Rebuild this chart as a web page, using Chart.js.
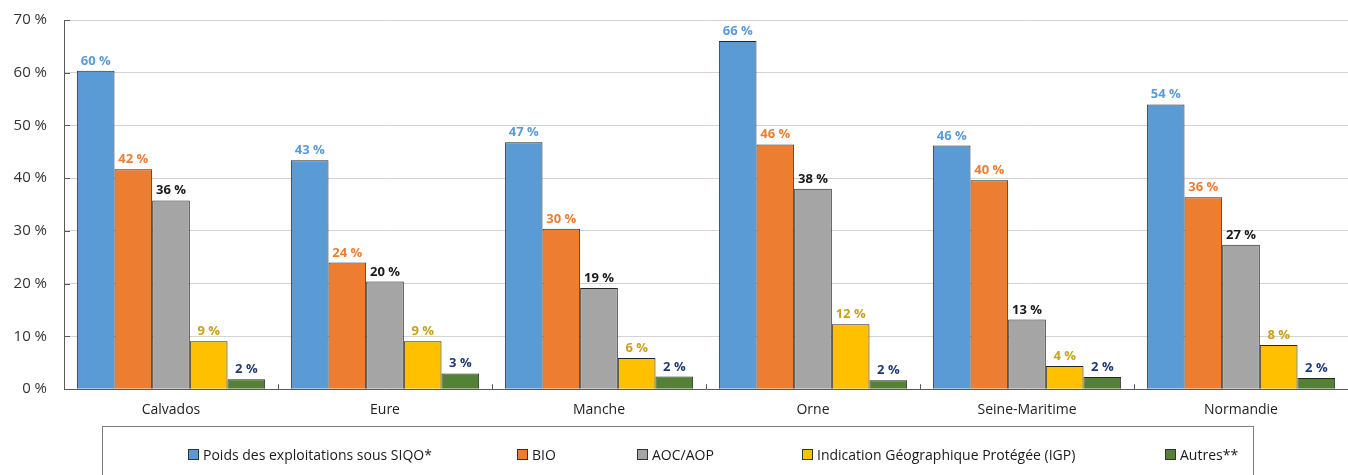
<!DOCTYPE html>
<html lang="fr">
<head>
<meta charset="utf-8">
<title>Exploitations sous SIQO - Normandie</title>
<script src="https://cdn.jsdelivr.net/npm/chart.js@4.4.1/dist/chart.umd.min.js"></script>
<style>
    html, body { margin: 0; padding: 0; background: #fff; }
    #wrap { position: relative; width: 1348px; height: 475px; overflow: hidden; }
    #chartBox { position: absolute; left: 0; top: -6px; width: 1348px; height: 434px; }
    #legend {
        position: absolute; left: 102px; top: 426px; width: 1152px; height: 80px;
        border: 1px solid #7f7f7f; box-sizing: border-box;
    }
    .lg-item {
        position: absolute; top: 18px; display: flex; align-items: center;
        font: 14px "Open Sans", sans-serif; color: #1a1a1a; white-space: nowrap;
    }
    .lg-item i { display: inline-block; width: 9px; height: 9px; border: 1px solid #333; margin-right: 4px; }
</style>
</head>
<body>
<div id="wrap">
    <div id="chartBox"><canvas id="siqoChart"></canvas></div>
    <div id="legend"></div>
</div>

<script>
// categories and series (values in %)
const departements = ['Calvados', 'Eure', 'Manche', 'Orne', 'Seine-Maritime', 'Normandie'];
const siqo = [60.4, 43.4, 46.8, 66.0, 46.2, 54.0];
const bio = [41.7, 24.0, 30.4, 46.4, 39.6, 36.4];
const aocAop = [35.8, 20.4, 19.2, 38.0, 13.2, 27.4];
const igp = [9.1, 9.1, 5.9, 12.3, 4.4, 8.4];
const autres = [1.9, 3.0, 2.4, 1.7, 2.3, 2.1];
const yTicks = [0, 10, 20, 30, 40, 50, 60, 70];

const seriesNames = ['Poids des exploitations sous SIQO*', 'BIO', 'AOC/AOP', 'Indication Géographique Protégée (IGP)', 'Autres**'];
const barColors = ['#5B9BD5', '#ED7D31', '#A5A5A5', '#FFC000', '#548235'];
const labelColors = ['#5B9BD5', '#ED7D31', '#1a1a1a', '#C9A01C', '#1F3A73'];
const legendLeft = [85, 414, 534, 699, 1062];

// value labels above bars
const valueLabels = {
    id: 'valueLabels',
    afterDatasetsDraw(chart) {
        const ctx = chart.ctx;
        ctx.save();
        ctx.font = 'bold 13px "Open Sans", sans-serif';
        ctx.textAlign = 'center';
        ctx.textBaseline = 'alphabetic';
        chart.data.datasets.forEach((ds, i) => {
            ctx.fillStyle = labelColors[i];
            chart.getDatasetMeta(i).data.forEach((bar, j) => {
                ctx.fillText(Math.round(ds.data[j]) + ' %', bar.x, bar.y - 6);
            });
        });
        ctx.restore();
    }
};

// small inward tick marks on both axes
const innerTicks = {
    id: 'innerTicks',
    afterDraw(chart) {
        const ctx = chart.ctx, x = chart.scales.x, y = chart.scales.y, area = chart.chartArea;
        ctx.save();
        ctx.strokeStyle = '#595959';
        ctx.lineWidth = 1;
        ctx.beginPath();
        const step = (x.getPixelForValue(1) - x.getPixelForValue(0));
        for (let i = 1; i < departements.length; i++) {
            const px = Math.round(x.getPixelForValue(i) - step / 2) + 0.5;
            ctx.moveTo(px, area.bottom);
            ctx.lineTo(px, area.bottom - 5);
        }
        yTicks.forEach(v => {
            const py = Math.round(y.getPixelForValue(v)) + 0.5;
            ctx.moveTo(area.left, py);
            ctx.lineTo(area.left + 6, py);
        });
        ctx.stroke();
        ctx.restore();
    }
};

const datasets = [siqo, bio, aocAop, igp, autres].map((vals, i) => ({
    label: seriesNames[i],
    data: vals,
    backgroundColor: barColors[i],
    borderColor: '#262626',
    borderWidth: 1,
    categoryPercentage: 0.88,
    barPercentage: 1
}));

new Chart(document.getElementById('siqoChart'), {
    type: 'bar',
    data: { labels: departements, datasets: datasets },
    options: {
        responsive: true,
        maintainAspectRatio: false,
        animation: false,
        layout: { padding: { top: 8, right: 0, bottom: 6, left: 0 } },
        plugins: { legend: { display: false }, tooltip: { enabled: false } },
        scales: {
            x: {
                grid: { display: false },
                border: { color: '#595959', width: 1 },
                ticks: { color: '#222', font: { family: '"Open Sans", sans-serif', size: 14 }, padding: 4 }
            },
            y: {
                min: 0, max: 70,
                afterFit(scale) { scale.width = 64; },
                afterBuildTicks(scale) { scale.ticks = yTicks.map(v => ({ value: v })); },
                grid: { color: '#d4d4d4', lineWidth: 1, drawTicks: false },
                border: { color: '#595959', width: 1 },
                ticks: {
                    color: '#333', padding: 17,
                    font: { family: '"Open Sans", sans-serif', size: 15 },
                    callback: v => v + ' %'
                }
            }
        }
    },
    plugins: [valueLabels, innerTicks]
});

// legend, built from the series
const legend = document.getElementById('legend');
seriesNames.forEach((name, i) => {
    const item = document.createElement('div');
    item.className = 'lg-item';
    item.style.left = legendLeft[i] + 'px';
    item.innerHTML = '<i style="background:' + barColors[i] + '"></i>' + name;
    legend.appendChild(item);
});
</script>
</body>
</html>
